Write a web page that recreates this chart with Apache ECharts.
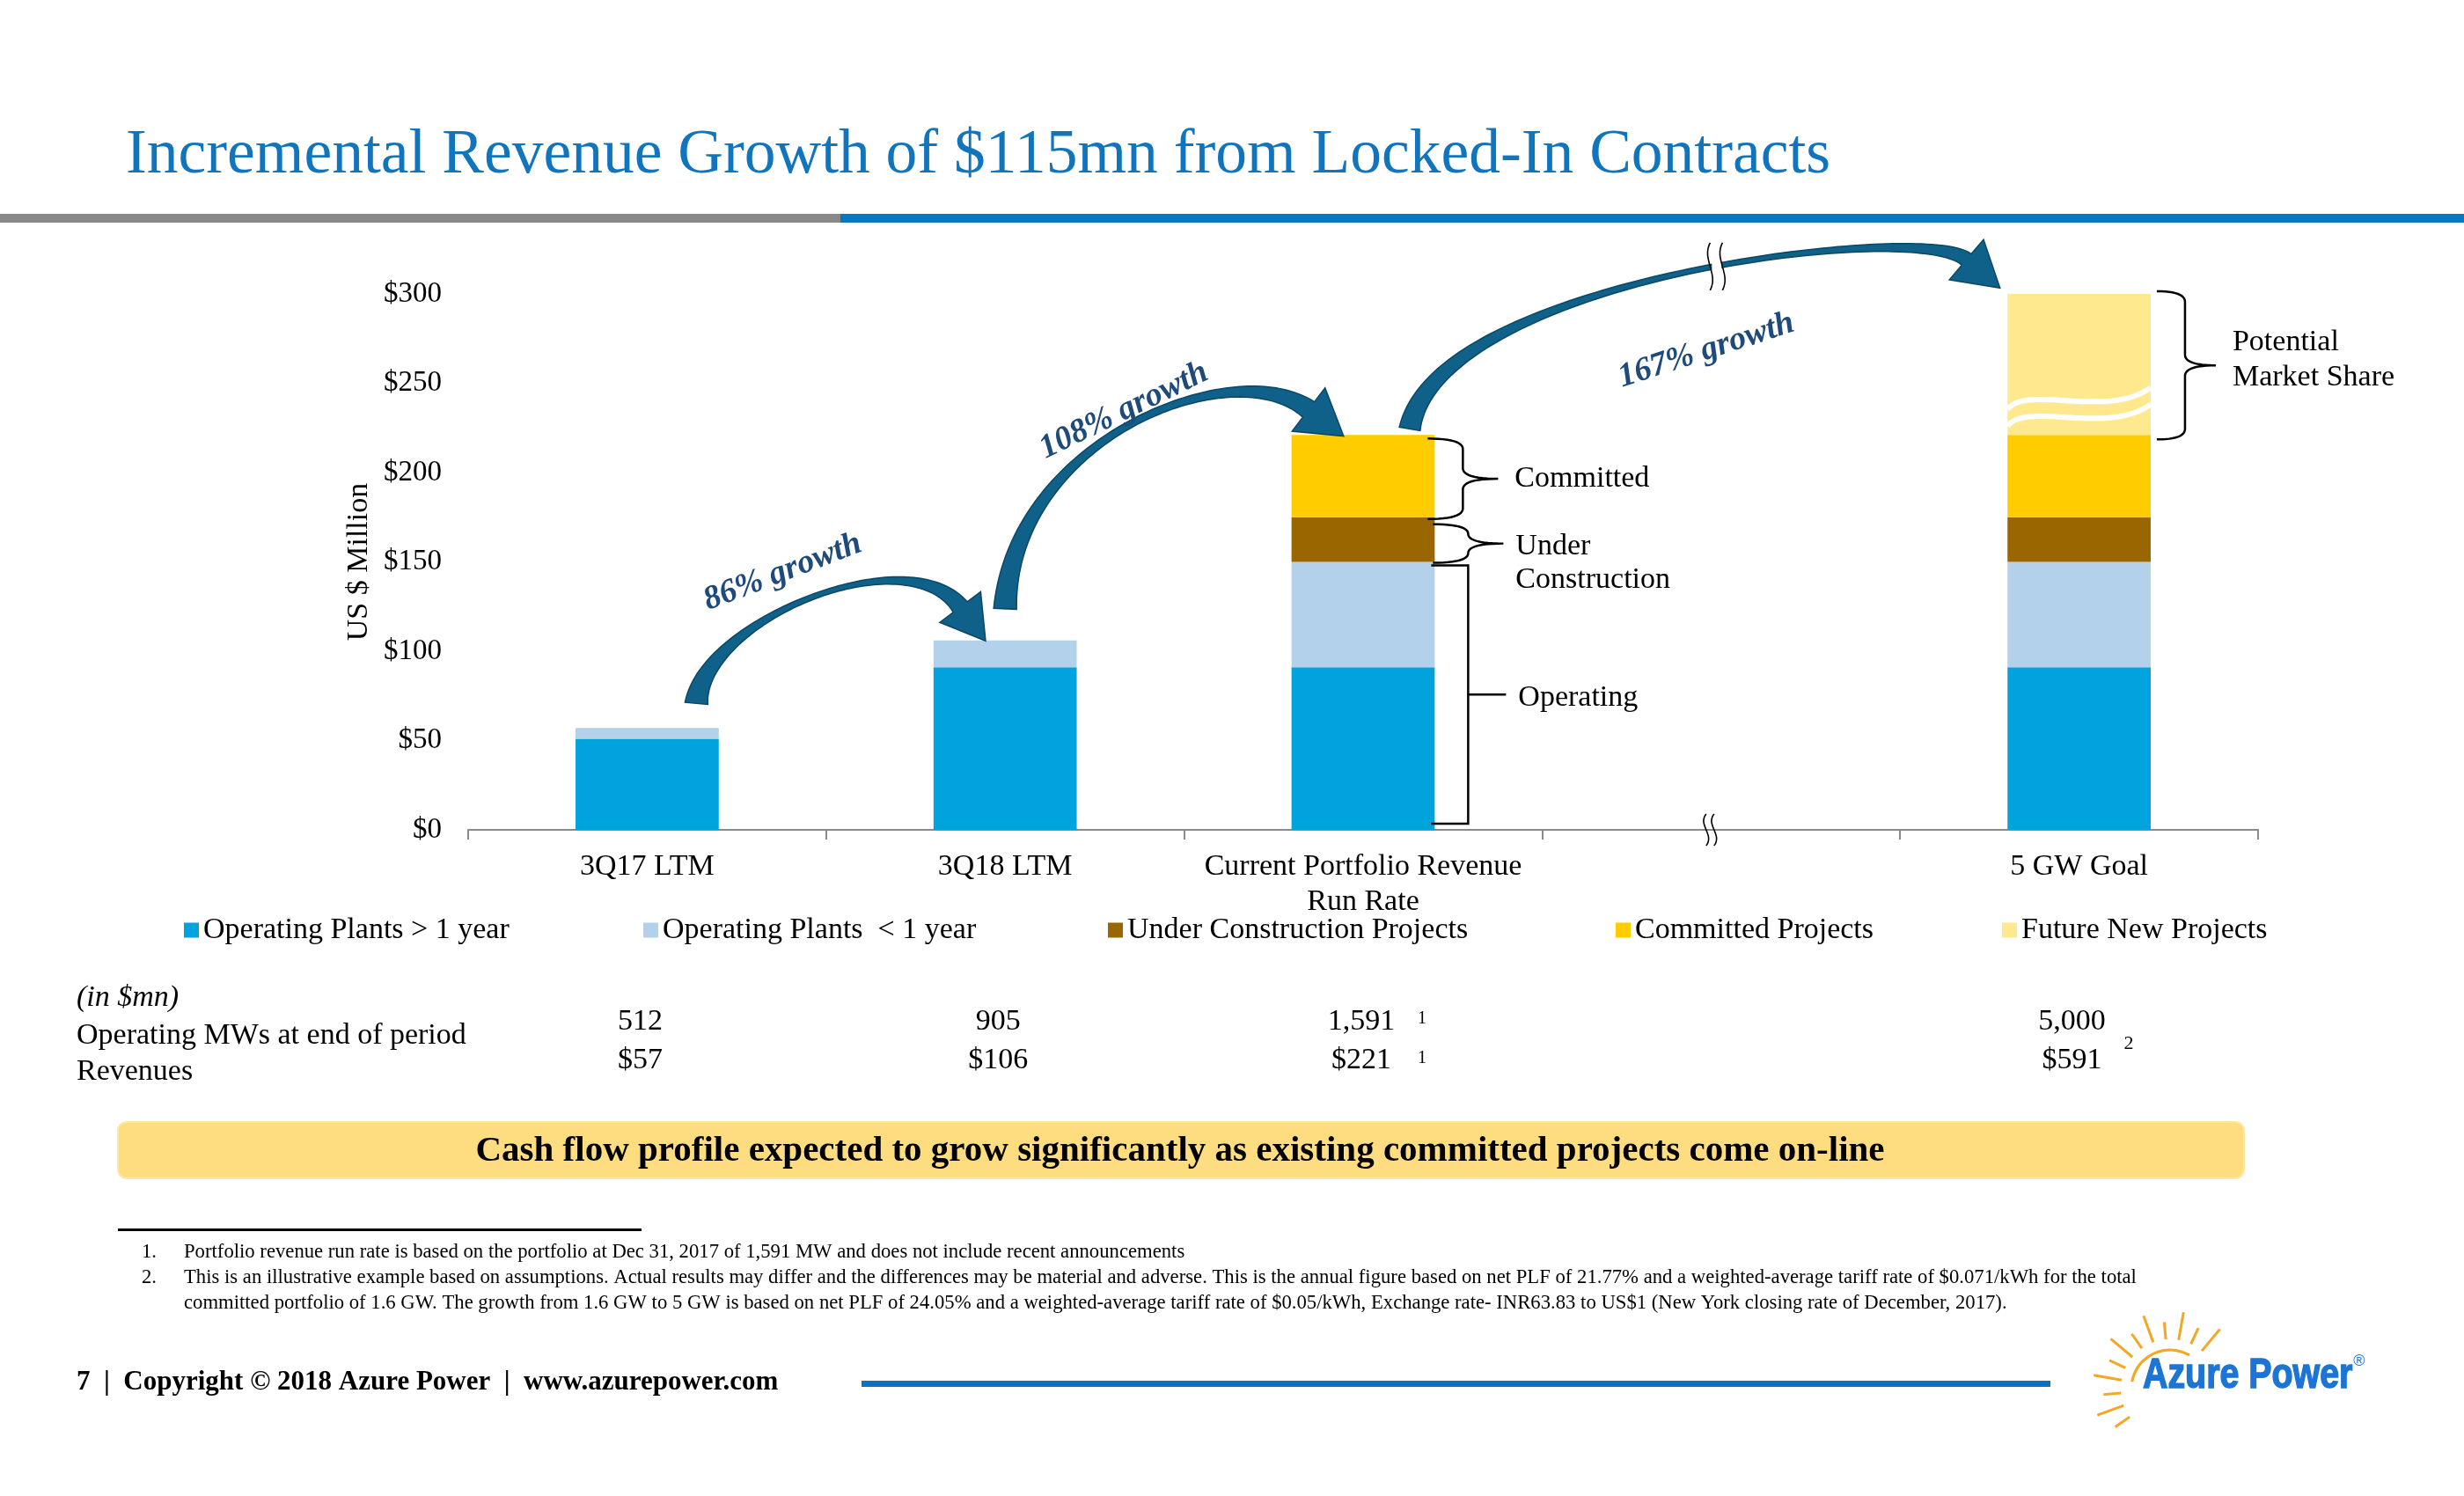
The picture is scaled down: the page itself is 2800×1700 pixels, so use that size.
<!DOCTYPE html>
<html><head><meta charset="utf-8">
<script src="https://cdn.jsdelivr.net/npm/echarts@6/dist/echarts.min.js"></script>
<style>html,body{margin:0;padding:0;background:#fff}#main{width:2800px;height:1700px}</style>
</head><body><div id="main"></div>
<script>
// ---------- data ----------
const categories = ['3Q17 LTM', '3Q18 LTM', 'Current Portfolio Revenue\nRun Rate', '', '5 GW Goal'];
const seriesNames = ['Operating Plants > 1 year', 'Operating Plants  < 1 year', 'Under Construction Projects', 'Committed Projects', 'Future New Projects'];
const operatingOver1 = [51, 91, 91, '-', 91];
const operatingUnder1 = [6, 15, 59, '-', 59];
const underConstruction = ['-', '-', 25, '-', 25];
const committed = ['-', '-', 46, '-', 46];
const futureNew = ['-', '-', '-', '-', 79];
const yTicks = [0, 50, 100, 150, 200, 250, 300];
const mwValues = ['512', '905', '1,591', '', '5,000'];
const revValues = ['$57', '$106', '$221', '', '$591'];
const growthLabels = ['86% growth', '108% growth', '167% growth'];
const rowLabels = ['(in $mn)', 'Operating MWs at end of period', 'Revenues'];
const footnotes = [
  'Portfolio revenue run rate is based on the portfolio at Dec 31, 2017 of 1,591 MW and does not include recent announcements',
  'This is an illustrative example based on assumptions. Actual results may differ and the differences may be material and adverse. This is the annual figure based on net PLF of 21.77% and a weighted-average tariff rate of $0.071/kWh for the total',
  'committed portfolio of 1.6 GW. The growth from 1.6 GW to 5 GW is based on net PLF of 24.05% and a weighted-average tariff rate of $0.05/kWh, Exchange rate- INR63.83 to US$1 (New York closing rate of December, 2017).'
];
const titleText = 'Incremental Revenue Growth of $115mn from Locked-In Contracts';
const bannerText = 'Cash flow profile expected to grow significantly as existing committed projects come on-line';
const footerText = '7  |  Copyright \u00A9 2018 Azure Power  |  www.azurepower.com';

// ---------- style ----------
const FONT = '"Liberation Serif", "Times New Roman", serif';
const colors = ['#00A3DE', '#B3D1EA', '#996600', '#FFCC00', '#FFE88E'];
const legendLefts = [209, 731, 1259, 1836, 2275];
const allData = [operatingOver1, operatingUnder1, underConstruction, committed, futureNew];

const chart = echarts.init(document.getElementById('main'));
const option = {
  animation: false,
  backgroundColor: '#ffffff',
  grid: { left: 532, top: 334, width: 2034, height: 609 },
  xAxis: {
    type: 'category', data: categories,
    axisLine: { lineStyle: { color: '#8a8a8a', width: 2 } },
    axisTick: { show: true, interval: 0, length: 11, lineStyle: { color: '#8a8a8a', width: 2 } },
    axisLabel: { interval: 0, color: '#000', fontSize: 34, fontFamily: FONT, margin: 22, lineHeight: 40 },
    splitLine: { show: false }
  },
  yAxis: {
    type: 'value', min: 0, max: 300, interval: 50,
    axisLine: { show: false }, axisTick: { show: false }, splitLine: { show: false },
    axisLabel: { formatter: v => '$' + v, color: '#000', fontSize: 33, fontFamily: FONT, margin: 30 },
    name: 'US $ Million', nameLocation: 'middle', nameGap: 106, nameRotate: 90,
    nameTextStyle: { fontSize: 34, color: '#000', fontFamily: FONT }
  },
  legend: seriesNames.map((n, i) => ({
    left: legendLefts[i], top: 1040, padding: 0, itemWidth: 17, itemHeight: 17, icon: 'rect',
    selectedMode: false, data: [n], textStyle: { fontSize: 34, fontFamily: FONT, color: '#000' }
  })),
  series: seriesNames.map((n, i) => ({
    name: n, type: 'bar', stack: 'total', barWidth: '40%', data: allData[i],
    itemStyle: { color: colors[i] }, emphasis: { disabled: true }
  }))
};
chart.setOption(option);

// ---------- annotations ----------
function P(ci, v) { return chart.convertToPixel({ xAxisIndex: 0, yAxisIndex: 0 }, [ci, v]); }
function add(a, b) { return [a[0] + b[0], a[1] + b[1]]; }
const cw = P(1, 0)[0] - P(0, 0)[0];
const bw = cw * 0.4;
const g = [];

function txt(x, y, text, opt) {
  opt = opt || {};
  g.push({
    type: 'text', x: x, y: y, rotation: opt.rotation || 0, z: 100,
    style: {
      text: text, fontSize: opt.size || 34, fontFamily: opt.family || FONT,
      fontWeight: opt.weight || 'normal', fontStyle: opt.style || 'normal',
      fill: opt.color || '#000', align: opt.align || 'left', verticalAlign: 'middle',
      lineHeight: opt.lineHeight
    }
  });
}
function rect(x, y, w, h, fill, r) {
  g.push({ type: 'rect', z: 90, shape: { x: x, y: y, width: w, height: h, r: r || 0 }, style: { fill: fill } });
}

// title & header bars
txt(143, 177, titleText, { size: 71.5, color: '#1075BD' });
rect(0, 243, 955, 10, '#898989');
rect(955, 243, 1845, 10, '#0B76C3');

// curved arrows
function cubic(p, t) { const u = 1 - t; return [0, 1].map(k => u*u*u*p[0][k] + 3*u*u*t*p[1][k] + 3*u*t*t*p[2][k] + t*t*t*p[3][k]); }
function cubicD(p, t) { const u = 1 - t; return [0, 1].map(k => 3*u*u*(p[1][k]-p[0][k]) + 6*u*t*(p[2][k]-p[1][k]) + 3*t*t*(p[3][k]-p[2][k])); }
function arrowPoly(p, w0, wm, w1, hl, hw) {
  const N = 90, L = [], R = [];
  const wc = 2 * wm - 0.5 * (w0 + w1);
  for (let i = 0; i <= N; i++) {
    const t = i / N, b = cubic(p, t), d = cubicD(p, t), len = Math.hypot(d[0], d[1]);
    const nx = -d[1] / len, ny = d[0] / len, u = 1 - t;
    const w = Math.max(3, u*u*w0 + 2*u*t*wc + t*t*w1);
    L.push([b[0] + nx*w/2, b[1] + ny*w/2]); R.push([b[0] - nx*w/2, b[1] - ny*w/2]);
  }
  const d = cubicD(p, 1), len = Math.hypot(d[0], d[1]), tx = d[0]/len, ty = d[1]/len, nx = -ty, ny = tx, e = p[3];
  const tip = [e[0] + tx*hl, e[1] + ty*hl];
  return L.concat([[e[0] + nx*hw/2, e[1] + ny*hw/2], tip, [e[0] - nx*hw/2, e[1] - ny*hw/2]], R.reverse());
}
function arrow(p, w0, wm, w1, hl, hw) {
  g.push({ type: 'polygon', z: 95, shape: { points: arrowPoly(p, w0, wm, w1, hl, hw) },
    style: { fill: '#10618A', stroke: '#0A4763', lineWidth: 1.5 } });
}
const a0 = P(0, 57), a1 = P(1, 106), a2 = P(2, 221), a4 = P(4, 300);
const arr1 = [add(a0, [56, -28]), add(a0, [64, -123]), add(a1, [-111, -118]), add(a1, [-51, -38])];
const arr2 = [add(a1, [0, -36]), add(a1, [8, -228]), add(a2, [-149, -95]), add(a2, [-62, -29])];
const arr3 = [add(a2, [53, -7]), add(a2, [83, -177]), add(a4, [-181, -84]), add(a4, [-128, -39])];
arrow(arr1, 26, 6, 20, 48, 58);
arrow(arr2, 26, 8, 22, 50, 62);
arrow(arr3, 24, 6, 17, 50, 60);

// growth labels
const gl = { size: 38, weight: 'bold', style: 'italic', color: '#1F4A7C', align: 'center' };
txt(a0[0] + 154, a0[1] - 177, growthLabels[0], Object.assign({ rotation: 21 * Math.PI / 180 }, gl));
txt(a1[0] + 135, a1[1] - 261, growthLabels[1], Object.assign({ rotation: 26 * Math.PI / 180 }, gl));
txt(a2[0] + 390, a2[1] - 96, growthLabels[2], Object.assign({ rotation: 18 * Math.PI / 180 }, gl));

// break marks
function sMark(x, y0, y1, amp) {
  const h = y1 - y0;
  return { type: 'bezierCurve', z: 120, shape: { x1: x, y1: y0, x2: x, y2: y1, cpx1: x - amp, cpy1: y0 + h * 0.35, cpx2: x + amp, cpy2: y0 + h * 0.65 },
    style: { stroke: '#000', lineWidth: 1.6, fill: null } };
}
const axX = P(3, 0)[0] - 17, axY = P(3, 0)[1];
g.push(sMark(axX, axY - 18, axY + 18, 10));
g.push(sMark(axX + 9, axY - 18, axY + 18, 10));
// break on arrow 3
let bt = 0, best = 1e9;
for (let i = 0; i <= 400; i++) { const t = i / 400, b = cubic(arr3, t); if (Math.abs(b[0] - (axX + 8)) < best) { best = Math.abs(b[0] - (axX + 8)); bt = t; } }
const bp = cubic(arr3, bt);
g.push({ type: 'polygon', z: 110, shape: { points: [[bp[0] - 2, bp[1] - 27], [bp[0] + 9, bp[1] - 27], [bp[0] + 9, bp[1] + 27], [bp[0] - 2, bp[1] + 27]] }, style: { fill: '#fff' } });
g.push(sMark(bp[0] - 4, bp[1] - 27, bp[1] + 27, 10));
g.push(sMark(bp[0] + 10, bp[1] - 27, bp[1] + 27, 10));

// wave on future projects
const b4 = P(4, 221), xl = b4[0] - bw / 2, xr = b4[0] + bw / 2;
[0, 19].forEach(off => {
  g.push({ type: 'bezierCurve', z: 80, shape: { x1: xl, y1: b4[1] - 29 + off, cpx1: xl + 20, cpy1: b4[1] - 58 + off, cpx2: xl + 115, cpy2: b4[1] - 18 + off, x2: xr, y2: b4[1] - 54 + off },
    style: { stroke: '#ffffff', lineWidth: 6, fill: null } });
});

// braces
function bracePts(x, y0, y1, tip, hook) {
  const pts = [], ym = (y0 + y1) / 2, r = Math.min(12, (y1 - y0) / 4);
  function q(p0, c, p1) { for (let i = 0; i <= 12; i++) { const t = i / 12, u = 1 - t; pts.push([u*u*p0[0] + 2*u*t*c[0] + t*t*p1[0], u*u*p0[1] + 2*u*t*c[1] + t*t*p1[1]]); } }
  q([x - hook, y0], [x, y0], [x, y0 + r]);
  q([x, ym - r], [x, ym], [x + tip, ym]);
  q([x + tip, ym], [x, ym], [x, ym + r]);
  q([x, y1 - r], [x, y1], [x - hook, y1]);
  return pts;
}
function brace(x, y0, y1, tip, hook) {
  g.push({ type: 'polyline', z: 100, shape: { points: bracePts(x, y0, y1, tip, hook) }, style: { stroke: '#000', lineWidth: 2.5, fill: null } });
}
const r3 = P(2, 0)[0] + bw / 2;
const yC0 = P(2, 221)[1] + 4, yC1 = P(2, 175)[1] + 2;
brace(r3 + 32, yC0, yC1, 40, 40);
txt(r3 + 91, (yC0 + yC1) / 2, 'Committed');
const yU0 = P(2, 175)[1] + 8, yU1 = P(2, 150)[1] + 1;
brace(r3 + 38, yU0, yU1, 40, 40);
txt(r3 + 92, (yU0 + yU1) / 2 + 22, 'Under\nConstruction', { lineHeight: 38 });
const yO0 = P(2, 150)[1] + 4, yO1 = P(2, 0)[1] - 7, yOm = (yO0 + yO1) / 2;
g.push({ type: 'polyline', z: 100, shape: { points: [[r3 - 4, yO0], [r3 + 38, yO0], [r3 + 38, yO1], [r3 - 4, yO1]] }, style: { stroke: '#000', lineWidth: 2.5, fill: null } });
g.push({ type: 'line', z: 100, shape: { x1: r3 + 38, y1: yOm, x2: r3 + 81, y2: yOm }, style: { stroke: '#000', lineWidth: 2.5 } });
txt(r3 + 95, yOm + 4, 'Operating');
const r5 = P(4, 0)[0] + bw / 2;
const yP0 = P(4, 300)[1] - 3, yP1 = P(4, 221)[1] + 5;
brace(r5 + 39, yP0, yP1, 35, 32);
txt(r5 + 93, (yP0 + yP1) / 2 - 6, 'Potential\nMarket Share', { lineHeight: 40 });

// table
txt(87, 1134, rowLabels[0], { style: 'italic' });
txt(87, 1177, rowLabels[1]);
txt(87, 1218, rowLabels[2]);
mwValues.forEach((v, i) => {
  if (!v) return;
  const cx = P(i, 0)[0] - (i === 2 ? 2 : 8);
  txt(cx, 1161, v, { align: 'center' });
  txt(cx, 1205, revValues[i], { align: 'center' });
});
txt(P(2, 0)[0] + 62, 1158, '1', { size: 20 });
txt(P(2, 0)[0] + 62, 1203, '1', { size: 20 });
txt(P(4, 0)[0] + 51, 1186, '2', { size: 22 });

// banner
g.push({ type: 'rect', z: 90, shape: { x: 134, y: 1275, width: 2416, height: 64, r: 10 }, style: { fill: '#FEDD80', stroke: '#FDE7A6', lineWidth: 2 } });
txt(1341, 1308, bannerText, { size: 41, weight: 'bold', align: 'center' });

// footnotes
rect(134, 1396, 595, 3, '#000');
txt(161, 1423, '1.', { size: 22.7 });
txt(209, 1423, footnotes[0], { size: 22.7 });
txt(161, 1452, '2.', { size: 22.7 });
txt(209, 1452, footnotes[1], { size: 22.7 });
txt(209, 1481, footnotes[2], { size: 22.7 });

// footer
txt(87, 1571, footerText, { size: 31, weight: 'bold' });
rect(979, 1569, 1351, 7, '#0F70C0');

// logo
const sc = [2466, 1578];
const rayAngles = [50, 65, 80, 95, 110, 125, 140, 155, 170, 185, 200, 215];
rayAngles.forEach((a, i) => {
  const rad = a * Math.PI / 180, rin = 56, rout = i % 2 ? 76 : 88;
  g.push({ type: 'line', z: 100, shape: { x1: sc[0] + Math.cos(rad) * rin, y1: sc[1] - Math.sin(rad) * rin, x2: sc[0] + Math.cos(rad) * rout, y2: sc[1] - Math.sin(rad) * rout },
    style: { stroke: '#F5A623', lineWidth: 3 } });
});
g.push({ type: 'arc', z: 100, shape: { cx: sc[0], cy: sc[1], r: 44, startAngle: -170 * Math.PI / 180, endAngle: -60 * Math.PI / 180 }, style: { stroke: '#F5A623', lineWidth: 3, fill: null } });
g.push({ type: 'text', z: 101, x: 2435, y: 1564, scaleX: 0.82,
  style: { text: 'Azure Power', fontSize: 48, fontWeight: 'bold', fontFamily: '"Liberation Sans", Arial, sans-serif', fill: '#1C74D4', align: 'left', verticalAlign: 'middle', stroke: '#1C74D4', lineWidth: 1.5 } });
txt(2681, 1547, '\u00AE', { size: 18, color: '#1C74D4', align: 'center', family: '"Liberation Sans", Arial, sans-serif' });

chart.setOption({ graphic: { elements: g } });
</script></body></html>
